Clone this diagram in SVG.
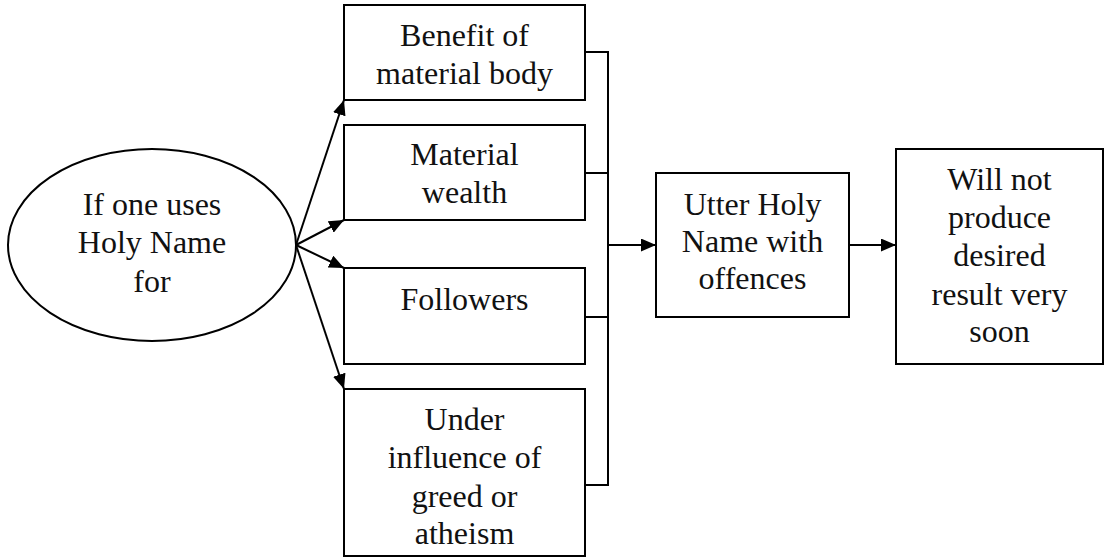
<svg xmlns="http://www.w3.org/2000/svg" width="1105" height="558" viewBox="0 0 1105 558">
  <style>
    .shape { fill: #ffffff; stroke: #000000; stroke-width: 2; }
    .line { fill: none; stroke: #000000; stroke-width: 2; }
    .label { font-family: "Liberation Serif", "Times New Roman", serif; font-size: 32px; fill: #111111; text-anchor: middle; }
  </style>
  <defs>
    <marker id="arrow" viewBox="0 0 15 13" refX="15" refY="6.5" markerWidth="15" markerHeight="13" markerUnits="userSpaceOnUse" orient="auto">
      <path d="M0,0 L15,6.5 L0,13 Z" fill="#000000"/>
    </marker>
  </defs>

  <g id="connectors">
    <!-- fan-out from the ellipse -->
    <line class="line" x1="296" y1="245" x2="344" y2="100" marker-end="url(#arrow)"/>
    <line class="line" x1="296" y1="245" x2="344" y2="220" marker-end="url(#arrow)"/>
    <line class="line" x1="296" y1="245" x2="344" y2="268" marker-end="url(#arrow)"/>
    <line class="line" x1="296" y1="245" x2="344" y2="389" marker-end="url(#arrow)"/>
    <!-- collecting bus -->
    <polyline class="line" points="585,52 608,52 608,485 585,485"/>
    <line class="line" x1="585" y1="173" x2="608" y2="173"/>
    <line class="line" x1="585" y1="317" x2="608" y2="317"/>
    <line class="line" x1="608" y1="245" x2="656" y2="245" marker-end="url(#arrow)"/>
    <line class="line" x1="849" y1="245" x2="896" y2="245" marker-end="url(#arrow)"/>
  </g>

  <g id="source">
    <ellipse class="shape" cx="152" cy="245" rx="144" ry="96"/>
    <text class="label" x="152" y="215">If one uses</text>
    <text class="label" x="152" y="253">Holy Name</text>
    <text class="label" x="152" y="292">for</text>
  </g>

  <g id="body">
    <rect class="shape" x="344" y="5" width="241" height="95"/>
    <text class="label" x="464.5" y="46">Benefit of</text>
    <text class="label" x="464.5" y="84">material body</text>
  </g>

  <g id="wealth">
    <rect class="shape" x="344" y="125" width="241" height="95"/>
    <text class="label" x="464.5" y="165">Material</text>
    <text class="label" x="464.5" y="203">wealth</text>
  </g>

  <g id="followers">
    <rect class="shape" x="344" y="268" width="241" height="96"/>
    <text class="label" x="464.5" y="310">Followers</text>
  </g>

  <g id="greed">
    <rect class="shape" x="344" y="389" width="241" height="167"/>
    <text class="label" x="464.5" y="430">Under</text>
    <text class="label" x="464.5" y="468">influence of</text>
    <text class="label" x="464.5" y="507">greed or</text>
    <text class="label" x="464.5" y="544">atheism</text>
  </g>

  <g id="offences">
    <rect class="shape" x="656" y="173" width="193" height="144"/>
    <text class="label" x="752.5" y="215">Utter Holy</text>
    <text class="label" x="752.5" y="252">Name with</text>
    <text class="label" x="752.5" y="289">offences</text>
  </g>

  <g id="result">
    <rect class="shape" x="896" y="149" width="207" height="215"/>
    <text class="label" x="999.5" y="190">Will not</text>
    <text class="label" x="999.5" y="228">produce</text>
    <text class="label" x="999.5" y="266">desired</text>
    <text class="label" x="999.5" y="305">result very</text>
    <text class="label" x="999.5" y="342">soon</text>
  </g>
</svg>
